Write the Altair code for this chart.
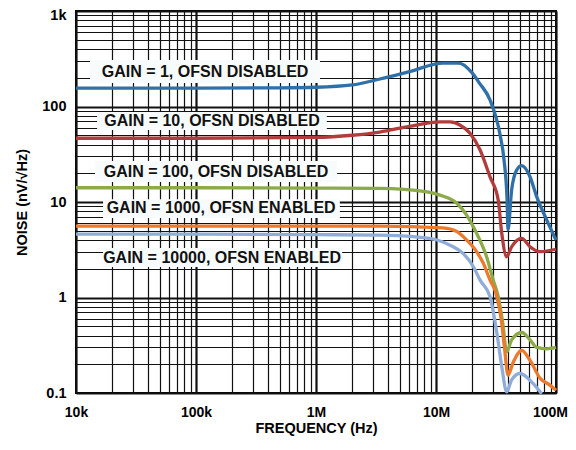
import altair as alt
import pandas as pd

# ---------------- data ----------------
series_names = ["G1", "G10", "G100", "G1000", "G10000"]
series_colors = ["#2f70a8", "#b23b3b", "#8caa48", "#ec7a2c", "#8fadd8"]

g1_f = [1e4, 1e5, 5e5, 1e6, 2e6, 3.4e6, 6e6, 1.14e7, 1.55e7, 2.0e7, 2.3e7, 2.82e7,
        3.42e7, 3.69e7, 3.91e7, 3.98e7, 4.27e7, 4.7e7, 5.18e7, 6.07e7, 6.9e7, 8.36e7, 1e8]
g1_n = [156, 156, 157, 159, 168, 194, 232, 285, 285, 225, 176, 117,
        50.4, 27.5, 10.5, 5.1, 13.4, 21.6, 24, 18.4, 11.4, 6.5, 4.0]

g10_f = [1e4, 1e5, 1e6, 2e6, 3.4e6, 6e6, 1.08e7, 1.31e7, 1.58e7, 1.92e7, 2.33e7, 2.82e7,
         3.3e7, 3.53e7, 3.88e7, 4.27e7, 5.18e7, 6.07e7, 7.36e7, 1e8]
g10_n = [46.5, 46.5, 47.5, 50, 54, 62, 69, 69, 64, 52.4, 35, 18.3,
         10.5, 4.73, 2.67, 3.4, 4.17, 3.4, 3.02, 3.2]

g100_f = [1e4, 1e5, 1e6, 3.4e6, 8.4e6, 1.08e7, 1.49e7, 1.8e7, 2.18e7, 2.64e7, 3.0e7, 3.3e7,
          3.6e7, 3.88e7, 4.27e7, 5.18e7, 6.07e7, 6.9e7, 8.36e7, 1e8]
g100_n = [14.1, 14.1, 14.0, 13.9, 12.8, 11.8, 9.7, 7.3, 4.7, 2.67, 1.52, 1.02,
          0.54, 0.27, 0.36, 0.43, 0.36, 0.30, 0.29, 0.30]

g1000_f = [1e4, 1e5, 1e6, 3.4e6, 1.14e7, 1.49e7, 1.8e7, 2.18e7, 2.48e7, 2.82e7, 3.16e7, 3.53e7,
           3.74e7, 3.98e7, 4.4e7, 5.18e7, 6.07e7, 7.36e7, 8.9e7, 1e8]
g1000_n = [5.6, 5.6, 5.6, 5.6, 5.35, 4.9, 4.0, 3.02, 2.28, 1.52, 1.11, 0.54,
           0.28, 0.154, 0.21, 0.28, 0.22, 0.143, 0.121, 0.107]

g10000_f = [1e4, 1e5, 1e6, 3.4e6, 6.5e6, 1.02e7, 1.39e7, 1.68e7, 2.05e7, 2.33e7, 2.82e7, 3.22e7,
            3.53e7, 3.88e7, 4.27e7, 5.0e7, 6.4e7, 7.6e7]
g10000_n = [4.6, 4.6, 4.55, 4.5, 4.33, 4.0, 3.4, 2.9, 2.1, 1.52, 1.02, 0.42,
            0.19, 0.103, 0.137, 0.16, 0.127, 0.098]

label_texts = ["GAIN = 1, OFSN DISABLED", "GAIN = 10, OFSN DISABLED",
               "GAIN = 100, OFSN DISABLED", "GAIN = 1000, OFSN ENABLED",
               "GAIN = 10000, OFSN ENABLED"]
label_f = [1.19e5, 1.36e5, 1.47e5, 1.62e5, 1.65e5]
label_n = [230, 70.5, 20.4, 8.65, 2.62]
box_f0 = [1.31e4, 1.5e4, 1.44e4, 1.68e4, 1.68e4]
box_f1 = [1.08e6, 1.23e6, 1.5e6, 1.58e6, 1.65e6]
box_n0 = [307, 87.5, 26.8, 10.7, 3.3]
box_n1 = [176, 56.7, 16.2, 6.8, 2.08]

x_major = [10000, 100000, 1000000, 10000000, 100000000]
x_major_labels = ["10k", "100k", "1M", "10M", "100M"]
y_major = [0.1, 1, 10, 100, 1000]
y_major_labels = ["0.1", "1", "10", "100", "1k"]

# ---------------- tables ----------------
rows = []
for name, fs, ns in zip(series_names,
                        [g1_f, g10_f, g100_f, g1000_f, g10000_f],
                        [g1_n, g10_n, g100_n, g1000_n, g10000_n]):
    for i, (f, n) in enumerate(zip(fs, ns)):
        rows.append({"series": name, "f": f, "n": n, "order": i})
lines_df = pd.DataFrame(rows)

labels_df = pd.DataFrame({"text": label_texts, "f": label_f, "n": label_n,
                          "f0": box_f0, "f1": box_f1, "n0": box_n0, "n1": box_n1})

x_grid = [m * d for d in x_major[:-1] for m in range(1, 10)] + [x_major[-1]]
y_grid = [round(m * d, 6) for d in y_major[:-1] for m in range(1, 10)] + [y_major[-1]]


def label_expr(values, labels):
    expr = "''"
    for v, lab in reversed(list(zip(values, labels))):
        expr = f"abs(datum.value / {v} - 1) < 1e-6 ? '{lab}' : ({expr})"
    return expr


major_test = "abs(log(datum.value) / LN10 - round(log(datum.value) / LN10)) < 0.001"
grid_width = {"condition": {"test": major_test, "value": 2.2}, "value": 1.2}
y_label_offset = {"condition": {"test": "datum.value > 500", "value": 4}, "value": 0}
x_label_offset = {"condition": {"test": "datum.value > 50000000", "value": -6}, "value": 0}

FONT = "Liberation Sans"

x_axis = alt.Axis(values=x_grid, labelExpr=label_expr(x_major, x_major_labels),
                  title="FREQUENCY (Hz)", grid=True, gridColor="#111111",
                  gridWidth=grid_width, ticks=False, domain=False,
                  labelFont=FONT, labelFontWeight="bold", labelFontSize=14,
                  labelPadding=12, labelFlush=False, labelOverlap=False,
                  labelOffset=x_label_offset,
                  labelColor="#000", titleFont=FONT, titleFontWeight="bold",
                  titleFontSize=14.5, titlePadding=2, titleColor="#000")
y_axis = alt.Axis(values=y_grid, labelExpr=label_expr(y_major, y_major_labels),
                  title="NOISE (nV/√Hz)", grid=True, gridColor="#111111",
                  gridWidth=grid_width, ticks=False, domain=False,
                  labelFont=FONT, labelFontWeight="bold", labelFontSize=14.5,
                  labelPadding=10, labelFlush=False, labelOverlap=False,
                  labelOffset=y_label_offset,
                  labelColor="#000", titleFont=FONT, titleFontWeight="bold",
                  titleFontSize=14.5, titlePadding=12, titleColor="#000")

x_scale = alt.Scale(type="log", domain=[1e4, 1e8], nice=False)
y_scale = alt.Scale(type="log", domain=[0.1, 1000], nice=False)

boxes = alt.Chart(labels_df).mark_rect(color="#f8fbfc").encode(
    x=alt.X("f0:Q", scale=x_scale, axis=x_axis),
    x2="f1:Q",
    y=alt.Y("n0:Q", scale=y_scale, axis=y_axis),
    y2="n1:Q",
)

lines = alt.Chart(lines_df).mark_line(strokeWidth=3.3, interpolate="monotone").encode(
    x=alt.X("f:Q", scale=x_scale, axis=x_axis),
    y=alt.Y("n:Q", scale=y_scale, axis=y_axis),
    color=alt.Color("series:N", scale=alt.Scale(domain=series_names, range=series_colors),
                    legend=None),
    order="order:Q",
)

texts = alt.Chart(labels_df).mark_text(font=FONT, fontWeight="bold", fontSize=16,
                                       color="#111", align="center",
                                       baseline="middle").encode(
    x=alt.X("f:Q", scale=x_scale, axis=x_axis),
    y=alt.Y("n:Q", scale=y_scale, axis=y_axis),
    text="text:N",
)

chart = alt.layer(boxes, lines, texts).properties(
    width=480, height=382,
    padding={"left": 68, "top": 3, "right": 12, "bottom": 46},
    autosize=alt.AutoSizeParams(type="none"),
    background="white",
).configure_view(stroke="#000", strokeWidth=2)

chart.save("out.html", embed_options={"renderer": "svg", "actions": False})
